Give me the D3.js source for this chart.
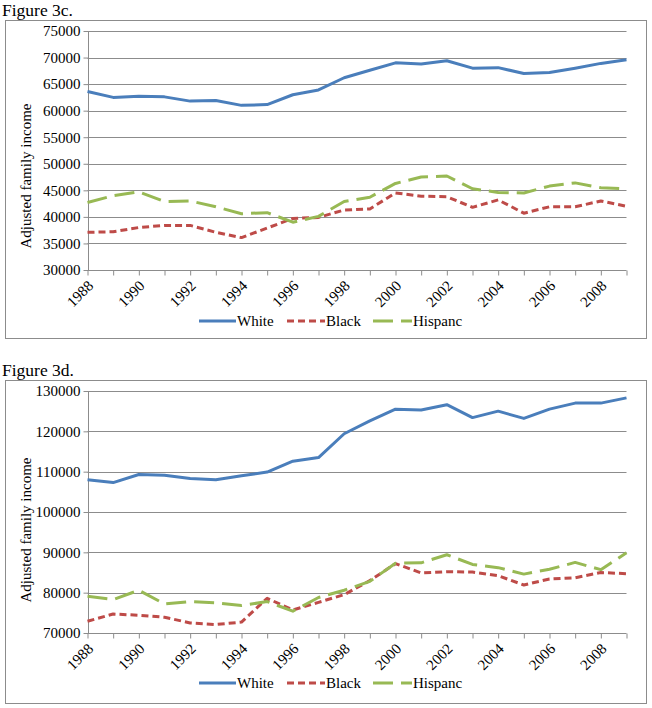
<!DOCTYPE html>
<html>
<head>
<meta charset="utf-8">
<script src="https://cdn.jsdelivr.net/npm/d3@7"></script>
<style>
  html, body { margin: 0; padding: 0; background: #fff; }
  svg { display: block; }
  svg text { font-family: "Liberation Serif", "Tinos", "DejaVu Serif", serif !important; fill: #000; }
</style>
</head>
<body>
<svg id="chart" width="652" height="708"></svg>
<script>
const years = d3.range(1988, 2010);
const xTickLabels = [1988, 1990, 1992, 1994, 1996, 1998, 2000, 2002, 2004, 2006, 2008];
const seriesNames = ["White", "Black", "Hispanc"];

// Figure 3c
const whiteC = [63600, 62500, 62700, 62600, 61800, 61900, 61000, 61150, 63000, 63900, 66200,
                67600, 69000, 68800, 69400, 68000, 68100, 67000, 67200, 68000, 68900, 69600];
const blackC = [37100, 37200, 38000, 38400, 38400, 37100, 36100, 37900, 39700, 39900, 41300,
                41500, 44500, 43900, 43800, 41800, 43200, 40700, 41900, 41900, 43000, 42000];
const hispC  = [42700, 44000, 44700, 42900, 43000, 41900, 40600, 40800, 39000, 40100, 42900,
                43700, 46300, 47500, 47700, 45300, 44600, 44500, 45800, 46400, 45500, 45300];
const yTicksC = [30000, 35000, 40000, 45000, 50000, 55000, 60000, 65000, 70000, 75000];

// Figure 3d
const whiteD = [108000, 107300, 109300, 109100, 108300, 108000, 109000, 109900, 112600, 113500, 119400,
                122600, 125500, 125300, 126600, 123400, 125000, 123200, 125500, 127000, 127000, 128300];
const blackD = [72900, 74700, 74400, 73900, 72500, 72100, 72700, 78600, 75700, 77600, 79500,
                83000, 87200, 84900, 85200, 85100, 84200, 81900, 83400, 83700, 85000, 84700];
const hispD  = [79100, 78300, 80600, 77200, 77800, 77500, 76800, 77800, 75400, 78800, 80600,
                82800, 87300, 87400, 89400, 87000, 86200, 84600, 85800, 87500, 85700, 89900];
const yTicksD = [70000, 80000, 90000, 100000, 110000, 120000, 130000];

const colors = { White: "#4A7EBB", Black: "#BE4B48", Hispanc: "#98B954" };
const dashes = { White: null, Black: "7,4", Hispanc: "20,8" };

const svg = d3.select("#chart");
const gridColor = "#8c8c8c";

function panel(opts) {
  const g = svg.append("g");
  g.append("rect")
    .attr("x", 5.5).attr("y", opts.boxTop + 0.5)
    .attr("width", 641).attr("height", opts.boxBottom - opts.boxTop)
    .attr("fill", "#fff").attr("stroke", "#8c8c8c").attr("stroke-width", 1);
  g.append("text").attr("x", 2).attr("y", opts.boxTop - 4)
    .style("font-size", "17.5px").text(opts.title);

  const x = d3.scaleLinear().domain([1988, 2009]).range([87.5, 626.5]);
  const y = d3.scaleLinear().domain(opts.yDomain).range([opts.plotBottom, opts.plotTop]);

  g.append("g").selectAll("line").data(opts.yTicks.filter(v => v !== opts.yDomain[0]))
    .join("line")
    .attr("x1", x(1988)).attr("x2", x(2009))
    .attr("y1", d => Math.round(y(d)) + 0.5).attr("y2", d => Math.round(y(d)) + 0.5)
    .attr("stroke", gridColor).attr("stroke-width", 1);

  const yAxis = d3.axisLeft(y).tickValues(opts.yTicks).tickSize(5).tickPadding(3)
    .tickFormat(d3.format("d"));
  const ya = g.append("g").attr("transform", `translate(${Math.round(x(1988)) + 0.5},0)`).call(yAxis);
  ya.attr("font-family", null).attr("font-size", null);
  ya.selectAll("path, line").attr("stroke", gridColor);
  ya.select("path").attr("d", `M0,${y(opts.yDomain[1])}V${y(opts.yDomain[0])}`);
  ya.selectAll("text").style("font-size", "15px").attr("fill", "#000");

  const xAxis = d3.axisBottom(x).tickValues(years).tickSize(5).tickFormat("");
  const xa = g.append("g").attr("transform", `translate(0,${Math.round(y(opts.yDomain[0])) + 0.5})`).call(xAxis);
  xa.attr("font-family", null).attr("font-size", null);
  xa.selectAll("path, line").attr("stroke", gridColor);
  xa.select("path").attr("d", `M${x(1988)},0H${x(2009)}`);
  g.append("g").selectAll("text").data(xTickLabels).join("text")
    .attr("transform", d => `translate(${x(d) + 3},${y(opts.yDomain[0]) + 13}) rotate(-45)`)
    .attr("text-anchor", "end")
    .attr("dy", "0.35em")
    .style("font-size", "15px")
    .text(d => d);

  g.append("text")
    .attr("transform", `translate(${opts.yTitleX},${opts.yTitleY}) rotate(-90)`)
    .attr("text-anchor", "middle")
    .style("font-size", "15px")
    .text("Adjusted family income");

  const line = d3.line().x((d, i) => x(years[i])).y(d => y(d));
  const data = [opts.white, opts.black, opts.hisp];
  seriesNames.forEach((name, k) => {
    g.append("path").datum(data[k])
      .attr("d", line)
      .attr("fill", "none")
      .attr("stroke", colors[name])
      .attr("stroke-width", 3)
      .attr("stroke-linejoin", "round")
      .attr("stroke-dasharray", dashes[name]);
  });

  const legX = [{ x1: 199, x2: 236, tx: 237 }, { x1: 287, x2: 325, tx: 326 }, { x1: 373, x2: 412, tx: 413 }];
  seriesNames.forEach((name, k) => {
    g.append("line")
      .attr("x1", legX[k].x1).attr("x2", legX[k].x2)
      .attr("y1", opts.legendY).attr("y2", opts.legendY)
      .attr("stroke", colors[name]).attr("stroke-width", 3)
      .attr("stroke-dasharray", dashes[name]);
    g.append("text").attr("x", legX[k].tx).attr("y", opts.legendY).attr("dy", "0.35em")
      .style("font-size", "15px").text(name);
  });
}

panel({
  title: "Figure 3c.", boxTop: 20, boxBottom: 338,
  plotTop: 31, plotBottom: 270, yDomain: [30000, 75000], yTicks: yTicksC,
  white: whiteC, black: blackC, hisp: hispC,
  yTitleX: 31, yTitleY: 176, legendY: 321
});
panel({
  title: "Figure 3d.", boxTop: 380, boxBottom: 703,
  plotTop: 391, plotBottom: 633, yDomain: [70000, 130000], yTicks: yTicksD,
  white: whiteD, black: blackD, hisp: hispD,
  yTitleX: 31, yTitleY: 530, legendY: 683
});
</script>
</body>
</html>
